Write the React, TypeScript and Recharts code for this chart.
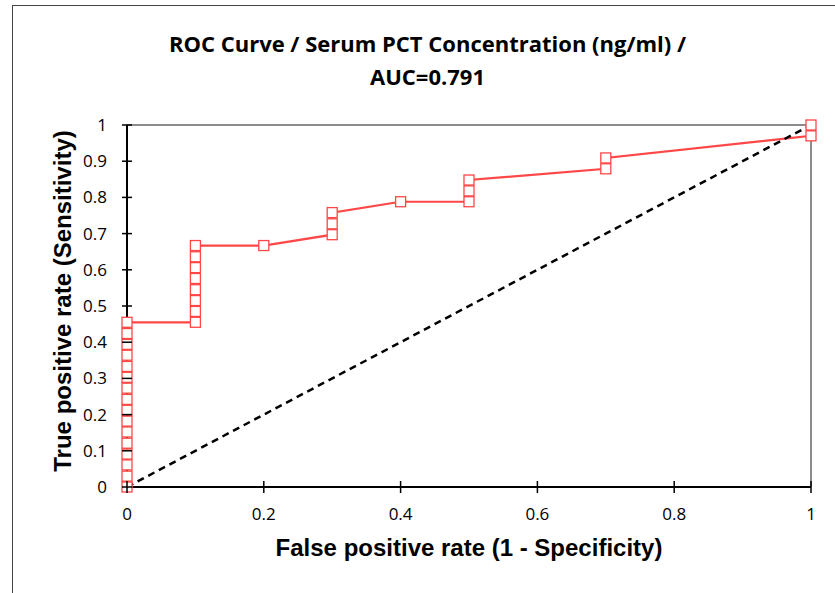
import React from "react";
import { LineChart, Line, XAxis, YAxis, ReferenceLine } from "recharts";

// ROC points (steps of 1/33 in sensitivity)
const fpr = [
  0, 0, 0, 0, 0, 0, 0, 0, 0, 0, 0, 0, 0, 0, 0, 0,
  0.1, 0.1, 0.1, 0.1, 0.1, 0.1, 0.1, 0.1,
  0.2,
  0.3, 0.3, 0.3,
  0.4,
  0.5, 0.5, 0.5,
  0.7, 0.7,
  1, 1,
];
const tpr = [
  0, 0.03, 0.061, 0.091, 0.121, 0.152, 0.182, 0.212, 0.242, 0.273, 0.303, 0.333, 0.364, 0.394, 0.424, 0.455,
  0.455, 0.485, 0.515, 0.545, 0.576, 0.606, 0.636, 0.667,
  0.667,
  0.697, 0.727, 0.758,
  0.788,
  0.788, 0.818, 0.848,
  0.879, 0.909,
  0.97, 1,
];
const diagX = [0, 1];
const diagY = [0, 1];

const xTicks = [0, 0.2, 0.4, 0.6, 0.8, 1];
const yTicks = [0, 0.1, 0.2, 0.3, 0.4, 0.5, 0.6, 0.7, 0.8, 0.9, 1];

const title = ["ROC Curve / Serum PCT Concentration (ng/ml) /", "AUC=0.791"];
const xTitle = "False positive rate (1 - Specificity)";
const yTitle = "True positive rate (Sensitivity)";

const roc = fpr.map((x, i) => ({ x, y: tpr[i] }));
const diag = diagX.map((x, i) => ({ x, y: diagY[i] }));

const RED = "#ff4747";
const tickFont = "'Open Sans', sans-serif";

function SquareDot(props: any) {
  const { cx, cy } = props;
  if (cx == null || cy == null) return null;
  return <rect x={cx - 5} y={cy - 5} width={10} height={10} fill="#fff" stroke={RED} strokeWidth={1.3} />;
}

function YTick(props: any) {
  const { x, y, payload } = props;
  return (
    <g>
      <line x1={x - 5} x2={x + 5} y1={y} y2={y} stroke="#000" strokeWidth={1.5} />
      <text x={x - 20} y={y} dy="0.35em" textAnchor="end" fontSize={17} fontFamily={tickFont} fill="#000">
        {String(payload.value)}
      </text>
    </g>
  );
}

function XTick(props: any) {
  const { x, y, payload } = props;
  return (
    <g>
      <line x1={x} x2={x} y1={y - 6} y2={y + 6} stroke="#000" strokeWidth={1.5} />
      <text x={x} y={y + 33} textAnchor="middle" fontSize={17} fontFamily={tickFont} fill="#000">
        {String(payload.value)}
      </text>
    </g>
  );
}

export default function App() {
  return (
    <div style={{ position: "absolute", left: 0, top: 0, width: 835, height: 593, background: "#fff", overflow: "hidden" }}>
      <div
        style={{
          position: "absolute",
          left: 12,
          top: 5,
          width: 823,
          height: 588,
          borderLeft: "1.5px solid #444",
          borderTop: "1.5px solid #444",
        }}
      />
      <div
        style={{
          position: "absolute",
          left: 0,
          top: 27,
          width: 855,
          textAlign: "center",
          fontFamily: "'Open Sans', sans-serif",
          fontWeight: 700,
          fontSize: 22,
          lineHeight: "33px",
          color: "#000",
        }}
      >
        <div>{title[0]}</div>
        <div>{title[1]}</div>
      </div>
      <div
        style={{
          position: "absolute",
          left: 127,
          width: 684,
          top: 534,
          textAlign: "center",
          fontFamily: "'Liberation Sans', Arial, sans-serif",
          fontWeight: 700,
          fontSize: 24,
          lineHeight: "28px",
          color: "#000",
        }}
      >
        {xTitle}
      </div>
      <div style={{ position: "absolute", left: 63, top: 301, width: 0, height: 0 }}>
        <div
          style={{
            position: "absolute",
            left: -250,
            top: -14,
            width: 500,
            textAlign: "center",
            transform: "rotate(-90deg)",
            fontFamily: "'Liberation Sans', Arial, sans-serif",
            fontWeight: 700,
            fontSize: 24,
            lineHeight: "28px",
            color: "#000",
            whiteSpace: "nowrap",
          }}
        >
          {yTitle}
        </div>
      </div>
      <div style={{ position: "absolute", left: 0, top: 0 }}>
        <LineChart width={835} height={593} margin={{ top: 125, right: 24, left: 0, bottom: 0 }}>
          <XAxis
            type="number"
            dataKey="x"
            domain={[0, 1]}
            ticks={xTicks}
            height={106}
            tickSize={0}
            tickMargin={0}
            tickLine={false}
            axisLine={{ stroke: "#000", strokeWidth: 2 }}
            tick={<XTick />}
          />
          <YAxis
            type="number"
            dataKey="y"
            domain={[0, 1]}
            ticks={yTicks}
            width={127}
            tickSize={0}
            tickMargin={0}
            tickLine={false}
            axisLine={{ stroke: "#000", strokeWidth: 2 }}
            tick={<YTick />}
          />
          <ReferenceLine y={1} stroke="#8c8c8c" strokeWidth={2} />
          <ReferenceLine x={1} stroke="#8c8c8c" strokeWidth={2} />
          <Line
            data={roc}
            dataKey="y"
            type="linear"
            stroke={RED}
            strokeWidth={2.2}
            dot={<SquareDot />}
            isAnimationActive={false}
          />
          <Line
            data={diag}
            dataKey="y"
            type="linear"
            stroke="#000"
            strokeWidth={2.5}
            strokeDasharray="7 5"
            dot={false}
            isAnimationActive={false}
          />
        </LineChart>
      </div>
    </div>
  );
}
